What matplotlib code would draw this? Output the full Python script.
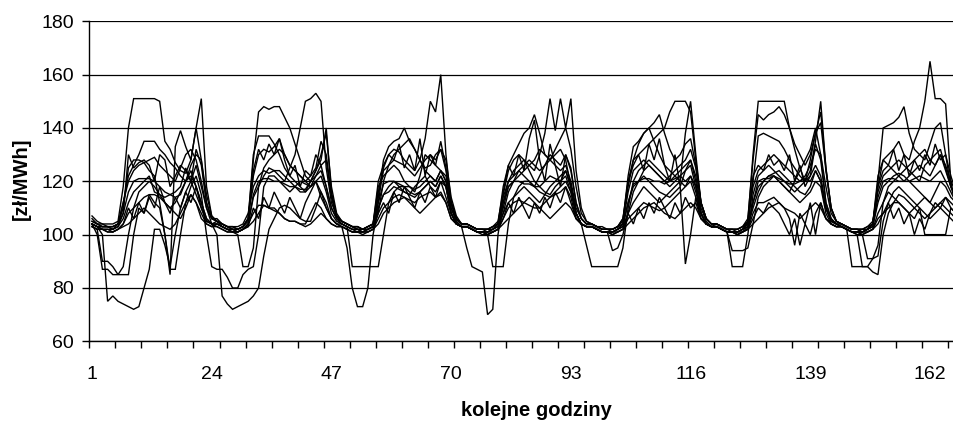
import matplotlib
matplotlib.use("Agg")
import matplotlib.pyplot as plt
import numpy as np

plt.rcParams['font.family'] = ['Liberation Sans', 'DejaVu Sans']

# hourly prices [zł/MWh], 7 days x 24 hours per series
s1 = [105,104,104,104,104,105,118,140,151,151,151,151,151,150,135,132,127,124,123,128,140,151,118,107,
      105,104,103,103,102,103,106,128,146,148,147,148,148,144,140,134,128,122,120,124,130,138,118,108,
      105,104,103,103,102,102,103,112,125,130,132,131,128,126,124,128,136,150,146,160,130,112,106,104,
      104,103,102,102,102,102,104,115,124,128,130,128,126,124,130,138,151,139,151,140,151,124,110,105,
      104,103,102,102,102,103,106,120,128,130,132,134,136,138,140,146,150,150,150,146,128,112,106,104,
      104,103,102,101,101,102,105,130,150,150,150,150,150,150,140,132,125,120,124,135,150,125,110,105,
      104,103,102,102,102,102,104,118,128,130,132,135,130,128,135,140,150,165,151,151,149,120,110,106]
s2 = [104,103,103,103,103,104,112,122,126,130,135,135,135,132,130,127,125,122,120,126,130,128,115,107,
      105,104,103,103,103,104,108,118,122,124,123,124,122,120,125,130,140,150,151,153,150,125,112,107,
      105,104,103,103,102,103,104,114,128,133,135,136,140,135,132,128,125,126,130,132,128,114,107,104,
      104,103,102,102,102,103,105,116,126,130,134,138,140,145,138,130,128,132,136,140,132,118,108,105,
      104,103,103,102,102,103,106,118,128,134,138,140,142,145,138,132,128,130,134,136,126,112,106,104,
      104,103,102,102,102,103,106,128,145,143,145,146,148,145,140,134,130,126,130,138,142,124,110,105,
      104,103,102,102,102,103,104,120,140,141,142,144,148,138,132,130,128,134,140,142,130,118,112,110]
s3 = [106,104,103,103,103,104,110,125,128,128,127,124,122,112,100,85,133,139,133,128,140,128,112,106,
      105,104,103,102,102,103,106,130,137,137,137,134,130,125,122,120,118,116,120,124,128,140,116,107,
      105,104,103,102,102,103,104,118,122,124,126,124,120,118,116,122,130,128,126,135,125,112,106,104,
      104,103,102,102,102,103,104,112,118,120,122,124,126,128,132,130,128,126,124,126,120,110,106,104,
      104,103,102,102,102,103,105,122,133,135,138,140,135,130,126,124,122,120,138,150,130,112,106,104,
      104,103,102,102,102,103,105,120,137,138,137,136,135,132,128,125,122,120,128,138,146,125,110,105,
      104,103,102,102,102,103,105,116,122,124,126,128,126,124,122,120,126,128,130,132,125,118,115,112]
s4 = [107,105,104,103,103,104,112,120,124,126,127,128,129,126,124,122,120,125,130,132,128,120,110,106,
      106,104,103,103,102,103,106,122,130,132,131,133,136,130,126,124,122,120,122,125,135,130,115,107,
      105,104,103,103,102,103,104,116,124,126,128,127,126,124,122,125,128,130,126,124,122,112,106,104,
      104,103,102,102,102,103,104,114,120,122,124,122,120,118,122,126,130,128,126,130,125,112,106,104,
      104,103,102,102,102,103,104,116,124,126,128,126,124,122,120,122,124,126,128,132,125,112,106,104,
      104,103,102,102,102,103,104,118,124,126,128,130,128,126,124,122,120,122,126,132,130,118,108,105,
      104,103,102,102,101,102,104,118,124,126,124,122,120,122,124,126,124,122,126,130,124,118,114,110]
s5 = [104,103,103,103,102,103,108,116,120,121,121,121,120,118,116,115,114,115,120,122,118,112,106,104,
      105,103,102,102,101,102,104,115,120,121,121,120,120,119,118,118,117,117,120,122,124,118,110,106,
      104,103,102,102,101,102,103,112,119,120,120,119,118,118,117,118,120,122,120,124,120,110,105,103,
      103,102,101,101,101,102,103,110,118,120,120,119,119,118,118,120,122,121,120,124,118,108,104,103,
      103,102,101,101,101,102,103,112,119,120,121,121,120,120,119,120,121,122,120,122,118,108,104,103,
      103,102,101,101,101,102,103,112,120,121,121,122,121,120,119,119,120,121,120,124,120,110,105,104,
      103,102,101,101,101,102,103,114,120,121,121,120,120,120,121,122,121,120,122,124,120,116,112,110]
s6 = [104,103,102,102,102,103,106,112,116,118,120,122,116,115,114,115,116,118,125,120,115,110,105,104,
      104,103,102,102,101,102,104,114,118,122,125,124,124,122,120,118,116,116,118,120,116,110,106,104,
      104,103,102,102,101,102,103,110,115,116,118,117,116,115,118,120,122,118,116,120,118,108,104,103,
      103,102,101,101,101,102,103,108,112,114,116,118,116,114,112,115,118,120,122,124,118,108,104,103,
      103,102,101,101,101,102,103,108,112,115,118,116,114,112,114,116,118,120,118,122,116,108,104,103,
      103,102,101,101,101,102,103,110,116,120,122,123,124,122,120,118,116,115,118,124,120,110,105,104,
      103,102,101,101,101,102,103,112,118,120,122,123,122,120,118,116,114,112,116,120,118,114,112,108]
s7 = [103,102,102,101,101,102,104,108,110,112,114,115,115,114,112,110,108,106,110,115,112,108,104,103,
      103,102,101,101,101,102,104,108,111,111,110,110,108,106,105,105,104,104,108,112,110,106,104,103,
      103,102,101,101,101,101,102,106,110,112,114,115,114,113,112,114,115,116,114,116,112,106,104,103,
      103,102,101,101,101,101,102,106,110,112,113,112,111,110,110,112,114,115,116,118,114,106,104,103,
      103,102,101,101,101,101,102,106,108,110,112,111,110,109,110,112,114,116,118,120,114,106,104,103,
      103,102,101,101,101,101,102,108,112,112,113,114,112,110,106,96,108,104,112,100,112,106,104,103,
      103,102,101,101,101,101,102,108,112,116,114,112,110,108,110,112,114,112,110,112,114,112,110,108]
s8 = [104,103,102,102,101,102,103,104,106,108,110,108,106,104,103,102,104,108,112,115,112,106,104,103,
      104,103,102,101,101,102,103,105,108,111,110,109,108,106,105,105,104,103,104,106,108,106,104,103,
      103,102,101,101,101,101,102,104,108,110,112,113,114,112,110,108,110,112,114,115,112,106,104,103,
      103,102,101,101,100,101,102,104,106,108,110,112,114,112,110,108,106,108,110,112,110,106,104,103,
      103,102,101,101,100,101,102,104,106,108,110,111,112,110,108,107,106,108,110,112,110,106,104,103,
      103,102,101,101,100,101,102,104,106,108,110,111,112,110,109,108,106,108,110,112,110,106,104,103,
      103,102,101,101,100,101,102,106,108,110,112,112,110,108,106,110,108,106,108,110,108,106,104,104]
s9 = [104,103,100,75,77,75,74,73,72,73,80,87,102,102,96,88,100,110,116,120,126,118,110,104,
      100,77,74,72,73,74,75,77,80,92,102,106,110,111,110,108,106,105,105,110,116,112,106,104,
      103,95,80,73,73,80,100,110,115,118,120,118,116,115,114,116,118,120,118,122,118,108,104,103,
      95,88,87,86,70,72,100,112,120,124,126,128,124,120,118,116,115,118,120,122,116,108,104,103,
      103,102,101,101,101,102,104,112,118,120,122,120,118,116,115,114,116,118,89,100,114,108,104,103,
      103,102,101,101,100,101,103,112,118,120,122,122,120,118,116,114,112,114,116,120,118,108,104,103,
      103,102,101,100,88,88,86,85,100,108,112,115,114,112,110,108,106,108,110,112,110,108,106,105]
s10 = [104,100,87,87,85,85,85,85,100,110,108,115,112,110,100,87,87,100,112,118,122,115,100,88,
       87,87,84,80,80,85,87,88,100,118,122,122,120,118,116,118,120,119,118,122,126,118,110,106,
       104,103,88,88,88,88,88,88,100,112,116,118,118,116,115,116,118,120,118,122,118,108,104,103,
       103,102,101,100,100,88,88,88,104,114,118,120,120,118,116,115,114,116,118,120,116,108,104,96,
       88,88,88,88,88,88,95,110,120,124,126,128,126,124,122,120,122,124,126,128,120,108,104,103,
       103,102,101,88,88,88,100,115,122,124,126,124,122,120,118,116,118,120,122,126,122,110,105,104,
       103,102,88,88,88,88,91,92,105,112,116,118,116,114,112,110,100,100,100,100,100,110,108,106]
s11 = [103,102,90,90,88,85,88,100,110,116,118,120,118,115,112,110,112,116,120,124,118,110,105,104,
       103,102,101,101,100,88,88,95,118,125,128,130,132,130,126,124,122,120,118,120,122,116,108,105,
       104,103,102,101,101,102,103,108,120,126,130,132,134,136,132,128,124,122,120,124,120,110,105,103,
       103,102,101,101,100,101,102,108,116,120,124,126,128,126,124,126,128,130,132,128,118,108,104,103,
       103,102,101,101,94,95,100,108,116,120,124,126,124,122,120,118,120,122,124,126,118,108,104,103,
       103,102,101,94,94,94,95,104,114,118,120,122,120,118,116,120,124,128,132,140,130,112,106,104,
       103,102,101,100,100,91,91,96,112,118,120,122,124,126,128,130,132,128,126,130,126,120,116,112]
s12 = [105,104,103,103,102,104,108,130,125,127,128,126,120,130,128,118,122,126,124,120,132,126,112,106,
       105,104,103,102,102,103,105,124,132,128,134,130,136,128,122,126,118,124,122,130,126,128,114,106,
       105,104,103,102,102,103,104,120,126,130,128,134,125,130,124,136,122,130,128,132,124,112,106,104,
       104,103,102,102,101,102,104,118,126,122,130,124,136,143,128,120,134,126,118,130,124,112,106,104,
       104,103,102,102,101,102,104,120,126,130,124,134,128,136,126,120,130,118,124,128,122,110,105,103,
       104,103,102,102,101,102,104,122,126,124,130,126,128,124,130,120,126,118,122,134,128,112,106,104,
       104,103,102,102,101,102,104,122,128,126,132,124,130,122,128,124,130,126,134,128,130,122,116,112]
s13 = [103,102,102,101,101,102,104,110,106,112,108,114,110,118,112,108,114,110,116,112,118,112,106,104,
       104,103,102,101,101,102,103,110,106,114,110,116,112,108,114,110,106,112,116,120,114,110,106,104,
       103,102,101,101,100,101,102,108,112,108,116,112,118,114,110,116,112,118,114,120,114,108,104,103,
       103,102,101,101,100,101,102,106,112,108,114,110,106,112,108,114,110,116,112,118,112,106,104,103,
       103,102,101,101,100,101,102,108,104,110,106,112,108,114,110,106,112,108,114,110,112,106,104,103,
       103,102,101,101,100,101,102,106,110,108,112,110,108,104,100,106,96,104,100,108,112,106,104,103,
       103,102,101,101,100,101,102,104,108,112,106,110,104,108,100,106,102,108,112,110,114,110,108,106]

series = [s1, s2, s3, s4, s5, s6, s7, s8, s9, s10, s11, s12, s13]
hours = np.arange(1, 169)
xtick_labels = [1, 24, 47, 70, 93, 116, 139, 162]
yticks = [60, 80, 100, 120, 140, 160, 180]

W, H = 954, 421
fig = plt.figure(figsize=(W / 100, H / 100), dpi=100)
left, right, top, bottom = 89.4, 954, 21.3, 341.3
ax = fig.add_axes([left / W, 1 - bottom / H, (right - left) / W, (bottom - top) / H])

for s in series:
    assert len(s) == 168
    ax.plot(hours, s, color='black', lw=1.0, solid_joinstyle='miter')

ax.set_xlim(0.5, 0.5 + (right - left) / 5.205)
ax.set_ylim(60, 180)
ax.set_yticks(yticks)
ax.set_yticklabels([str(v) for v in yticks], fontsize=14)
ax.yaxis.grid(True, color='black', lw=0.9)
ax.set_axisbelow(True)

ax.set_xticks(xtick_labels)
ax.set_xticklabels([str(v) for v in xtick_labels], fontsize=14)
ax.tick_params(axis='x', which='major', length=0, pad=18)
ax.set_xticks(np.arange(0.5, 168, 5), minor=True)
ax.tick_params(axis='x', which='minor', length=5, width=1, direction='out', color='black')
ax.tick_params(axis='y', which='major', length=5, width=1, direction='out', pad=6)

for sp in ['top', 'right']:
    ax.spines[sp].set_visible(False)
for sp in ['left', 'bottom']:
    ax.spines[sp].set_color('black')
    ax.spines[sp].set_linewidth(1.0)

fig.text(536 / W, 1 - 411 / H, 'kolejne godziny', ha='center', va='center',
         fontsize=14.5, fontweight='bold')
fig.text(21 / W, 1 - 179 / H, '[zł/MWh]', ha='center', va='center', rotation=90,
         fontsize=14.5, fontweight='bold')

fig.savefig('out.png', dpi=100)
